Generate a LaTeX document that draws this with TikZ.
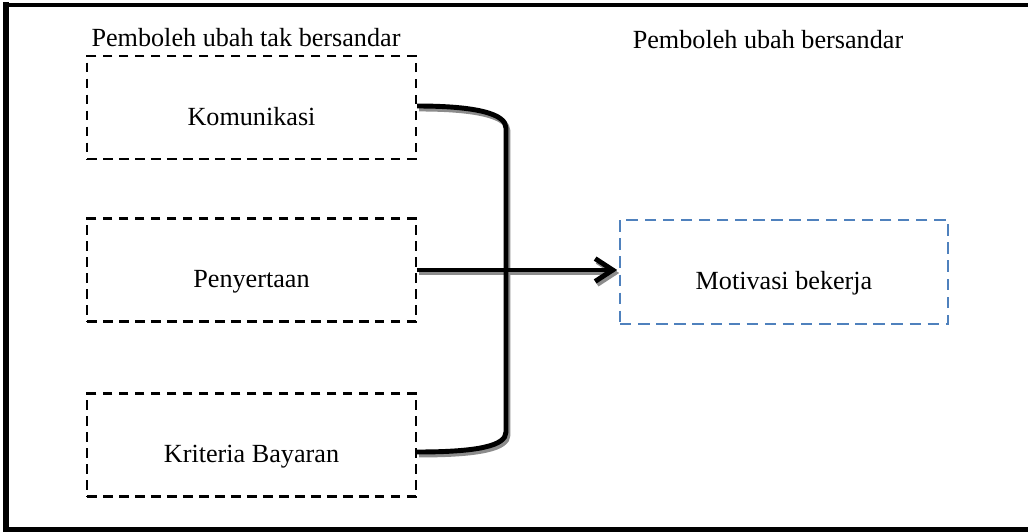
\documentclass[tikz,border=0pt]{standalone}
\usepackage{fontspec}
\setmainfont{Liberation Serif}
\usetikzlibrary{arrows.meta,calc}
\definecolor{boxblue}{RGB}{79,129,189}
\definecolor{shade}{RGB}{140,140,140}
% box text sits a little below the middle of its frame
\newcommand{\boxtext}[1]{\raisebox{-10pt}[0pt][0pt]{#1}}
\tikzset{
  varbox/.style={draw=black, line width=1.35pt, dash pattern=on 5.5pt off 3.6pt,
    minimum width=329*0.2mm, minimum height=103*0.2mm, inner sep=0pt,
    font=\fontsize{14.9}{18}\selectfont},
  depbox/.style={varbox, line width=1.2pt, draw=boxblue, dash pattern=on 6.5pt off 3.8pt},
  heading/.style={font=\fontsize{14.9}{18}\selectfont, inner sep=0pt},
  link/.style={line width=2.8pt, line cap=butt, line join=round},
  linkshade/.style={link, draw=shade},
  tip/.style={-{Straight Barb[length=10pt,width=13pt]}},
}
\begin{document}
\begin{tikzpicture}[x=0.02cm, y=-0.02cm]
  \useasboundingbox (0,0) rectangle (1028,531);

  % outer frame (right side runs off the page)
  \draw[line width=3.4pt] (6,2) -- (6,529);
  \draw[line width=2.6pt] (3,5) -- (1030,5);
  \draw[line width=2.6pt] (3,529.5) -- (1030,529.5);

  % headings
  \node[heading] (hin) at (246,38) {Pemboleh ubah tak bersandar};
  \node[heading] (hdep) at (768,40) {Pemboleh ubah bersandar};

  % variable boxes
  \node[varbox] (kom) at (251.5,107.5) {\boxtext{Komunikasi}};
  \node[varbox] (pen) at (251.5,270) {\boxtext{Penyertaan}};
  \node[varbox] (krit) at (251.5,445) {\boxtext{Kriteria Bayaran}};
  \node[depbox, minimum width=328*0.2mm, minimum height=104*0.2mm] (mot) at (784,272) {\boxtext{Motivasi bekerja}};

  % corners of the bracket that gathers the three variables
  \coordinate (bartop) at (506,128);
  \coordinate (barbot) at (506,432);
  \coordinate (kstart) at ($(kom.east)+(0,-1.5)$);
  \coordinate (kend) at ($(krit.east)+(0,7)$);
  \coordinate (arrend) at (pen.east -| mot.west);

  % soft drop shadows under the connectors
  \begin{scope}[transform canvas={xshift=0.04cm, yshift=-0.06cm}]
    \draw[linkshade] (kstart) .. controls +(60,0) and +(0,-14) .. (bartop) -- (barbot)
      .. controls +(0,14) and +(60,0) .. (kend);
    \draw[linkshade, tip, shorten >=1pt] (pen.east) -- (arrend);
  \end{scope}

  % connectors
  \draw[link] (kstart) .. controls +(60,0) and +(0,-14) .. (bartop) -- (barbot)
    .. controls +(0,14) and +(60,0) .. (kend);
  \draw[link, tip, shorten >=1pt] (pen.east) -- (arrend);
\end{tikzpicture}
\end{document}
